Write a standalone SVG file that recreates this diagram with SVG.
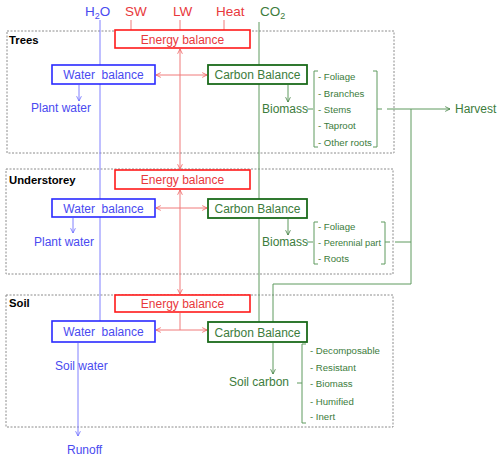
<svg xmlns="http://www.w3.org/2000/svg" width="500" height="459" viewBox="0 0 500 459">
<defs>
<style>
text{font-family:"Liberation Sans",Arial,sans-serif}
.zone{fill:none;stroke:#8c8c8c;stroke-width:1;stroke-dasharray:2,1.5}
.zl{font-size:11.3px;font-weight:bold;fill:#000}
.top{font-size:13.5px}
.b{fill:#4a4af0}.r{fill:#e8383c}.g{fill:#3c7c3c}
.eb{fill:#fff;stroke:#ff1a1a;stroke-width:1.6}
.wb{fill:#fff;stroke:#2a2aff;stroke-width:1.6}
.cb{fill:#fff;stroke:#1a6a1a;stroke-width:1.8}
.bt{font-size:12px;text-anchor:middle}
.lbl{font-size:12px}
.it{font-size:9.6px;fill:#3c7c3c}
.lb{fill:none;stroke:#8080ff;stroke-width:1}
.lr{fill:none;stroke:#f07a7a;stroke-width:1}
.lg{fill:none;stroke:#5e9a5e;stroke-width:1}
</style>
<marker id="ab" viewBox="0 0 10 10" refX="9" refY="5" markerWidth="6" markerHeight="6" markerUnits="userSpaceOnUse" orient="auto-start-reverse"><path d="M1,1 L9,5 L1,9" fill="none" stroke="#6a6aff" stroke-width="1.3"/></marker>
<marker id="ar" viewBox="0 0 10 10" refX="9" refY="5" markerWidth="6" markerHeight="6" markerUnits="userSpaceOnUse" orient="auto-start-reverse"><path d="M1,1 L9,5 L1,9" fill="none" stroke="#f05a5a" stroke-width="1.3"/></marker>
<marker id="ag" viewBox="0 0 10 10" refX="9" refY="5" markerWidth="6" markerHeight="6" markerUnits="userSpaceOnUse" orient="auto-start-reverse"><path d="M1,1 L9,5 L1,9" fill="none" stroke="#3c7c3c" stroke-width="1.3"/></marker>
</defs>
<rect width="500" height="459" fill="#fff"/>

<g id="zones">
<rect class="zone" x="7" y="31" width="387" height="122"/>
<text class="zl" x="9" y="44">Trees</text>
<rect class="zone" x="6" y="169" width="387" height="105"/>
<text class="zl" x="9" y="184">Understorey</text>
<rect class="zone" x="6" y="295" width="387" height="132"/>
<text class="zl" x="9" y="307">Soil</text>
</g>

<g id="inputs">
<text class="top b" x="85" y="16">H<tspan font-size="9" dy="3">2</tspan><tspan dy="-3">O</tspan></text>
<text class="top r" x="125" y="16">SW</text>
<text class="top r" x="173" y="16">LW</text>
<text class="top r" x="216" y="16">Heat</text>
<text class="top g" x="260" y="16">CO<tspan font-size="9" dy="3">2</tspan></text>
</g>

<g id="connectors">
<path class="lb" d="M100,20 V321"/>
<path class="lr" d="M131,20 V30 M180,20 V30 M224,20 V30"/>
<path class="lg" d="M259,22 V322"/>
<path class="lr" d="M180,49 V169" marker-start="url(#ar)" marker-end="url(#ar)"/>
<path class="lr" d="M180,190 V294" marker-start="url(#ar)" marker-end="url(#ar)"/>
<path class="lr" d="M156,75 H207" marker-start="url(#ar)" marker-end="url(#ar)"/>
<path class="lr" d="M156,208 H207" marker-start="url(#ar)" marker-end="url(#ar)"/>
<path class="lr" d="M156,330 H207" marker-start="url(#ar)" marker-end="url(#ar)"/>
<path class="lr" d="M180,313 V330"/>
<path class="lb" d="M79,85 V101" marker-end="url(#ab)"/>
<path class="lb" d="M73,218 V233" marker-end="url(#ab)"/>
<path class="lb" d="M78,343 V436" marker-end="url(#ab)"/>
<path class="lg" d="M288,85 V102" marker-end="url(#ag)"/>
<path class="lg" d="M288,219 V235" marker-end="url(#ag)"/>
<path class="lg" d="M273,343 V374" marker-end="url(#ag)"/>
<path class="lg" d="M307,109 H313 M318,71 H314 V147 H318 M373,71 H377 V147 H373 M377,109 H382"/>
<path class="lg" d="M387,109 H450" marker-end="url(#ag)"/>
<path class="lg" d="M411,109 V284 H273 V322"/>
<path class="lg" d="M307,242 H313 M318,222 H314 V264 H318 M381,222 H385 V264 H381 M385,242 H390 M395,242 H411"/>
<path class="lg" d="M297,383 H302 M306,344 H302 V423 H306"/>
</g>

<g id="trees-energy"><rect class="eb" x="115" y="30" width="135" height="18"/><text class="bt r" x="182.5" y="43.5">Energy balance</text></g>
<g id="trees-water"><rect class="wb" x="52" y="65" width="103" height="19"/><text class="bt b" x="103.5" y="79" xml:space="preserve">Water  balance</text></g>
<g id="trees-carbon"><rect class="cb" x="208" y="65" width="99" height="19"/><text class="bt g" x="257.5" y="79">Carbon Balance</text></g>
<g id="trees-plantwater"><text class="lbl b" x="31" y="112">Plant water</text></g>
<g id="trees-biomass"><text class="lbl g" x="262" y="113">Biomass</text>
<text class="it" x="318" y="79.5">- Foliage</text>
<text class="it" x="318" y="96.5">- Branches</text>
<text class="it" x="318" y="112.5">- Stems</text>
<text class="it" x="318" y="128.5">- Taproot</text>
<text class="it" x="318" y="145.5">- Other roots</text></g>
<g id="harvest"><text class="lbl g" x="455" y="113">Harvest</text></g>

<g id="under-energy"><rect class="eb" x="115" y="170" width="135" height="19"/><text class="bt r" x="182.5" y="184">Energy balance</text></g>
<g id="under-water"><rect class="wb" x="52" y="199" width="103" height="18"/><text class="bt b" x="103.5" y="212.5" xml:space="preserve">Water  balance</text></g>
<g id="under-carbon"><rect class="cb" x="208" y="199" width="99" height="19"/><text class="bt g" x="257.5" y="213">Carbon Balance</text></g>
<g id="under-plantwater"><text class="lbl b" x="34" y="246">Plant water</text></g>
<g id="under-biomass"><text class="lbl g" x="262" y="246">Biomass</text>
<text class="it" x="318" y="229.5">- Foliage</text>
<text class="it" x="318" y="245.5" textLength="63" lengthAdjust="spacingAndGlyphs">- Perennial part</text>
<text class="it" x="318" y="261.5">- Roots</text></g>

<g id="soil-energy"><rect class="eb" x="115" y="295" width="135" height="17"/><text class="bt r" x="182.5" y="308">Energy balance</text></g>
<g id="soil-water"><rect class="wb" x="52" y="321" width="103" height="21"/><text class="bt b" x="103.5" y="336" xml:space="preserve">Water  balance</text></g>
<g id="soil-carbon-box"><rect class="cb" x="208" y="322" width="99" height="20"/><text class="bt g" x="257.5" y="336.5">Carbon Balance</text></g>
<g id="soil-water-label"><text class="lbl b" x="55" y="370">Soil water</text></g>
<g id="runoff"><text class="lbl b" x="67" y="454">Runoff</text></g>
<g id="soil-carbon"><text class="lbl g" x="229" y="386">Soil carbon</text>
<text class="it" x="310" y="353.5">- Decomposable</text>
<text class="it" x="310" y="370.5">- Resistant</text>
<text class="it" x="310" y="386.5">- Biomass</text>
<text class="it" x="310" y="404.5">- Humified</text>
<text class="it" x="310" y="419.5">- Inert</text></g>
</svg>
